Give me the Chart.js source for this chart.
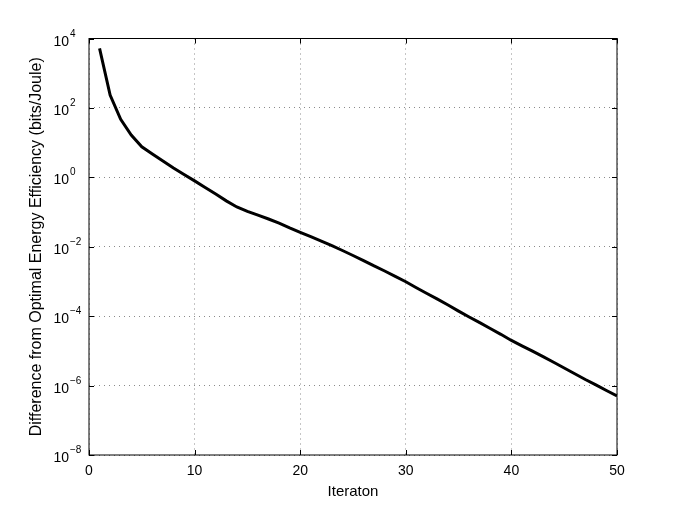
<!DOCTYPE html>
<html>
<head>
<meta charset="utf-8">
<script src="https://cdn.jsdelivr.net/npm/chart.js@4/dist/chart.umd.min.js"></script>
<style>
  html, body { margin: 0; padding: 0; background: #fff; }
  #wrap { width: 681px; height: 513px; }
</style>
</head>
<body>
<div id="wrap"><canvas id="chart" width="681" height="513"></canvas></div>
<script>
// iterations 1..50
const iterations = [1, 2, 3, 4, 5, 6, 7, 8, 9, 10,
  11, 12, 13, 14, 15, 16, 17, 18, 19, 20,
  21, 22, 23, 24, 25, 26, 27, 28, 29, 30,
  31, 32, 33, 34, 35, 36, 37, 38, 39, 40,
  41, 42, 43, 44, 45, 46, 47, 48, 49, 50];

// difference from optimum (bits/Joule)
const gapValues = [5200, 235, 47, 16.5, 7.6, 4.7, 2.95, 1.86, 1.2, 0.79,
  0.51, 0.33, 0.21, 0.14, 0.105, 0.081, 0.063, 0.048, 0.035, 0.026,
  0.0195, 0.0145, 0.0107, 0.0078, 0.0056, 0.004, 0.0028, 0.002, 0.0014, 9.8e-4,
  6.6e-4, 4.5e-4, 3.1e-4, 2.1e-4, 1.4e-4, 9.5e-5, 6.5e-5, 4.4e-5, 3.0e-5, 2.0e-5,
  1.4e-5, 9.8e-6, 6.8e-6, 4.7e-6, 3.2e-6, 2.2e-6, 1.5e-6, 1.05e-6, 7.2e-7, 5.0e-7];

const xTicks = [0, 10, 20, 30, 40, 50];
const yExponents = [-8, -6, -4, -2, 0, 2, 4];

const FONT = "'Liberation Sans', Arial, Helvetica, sans-serif";

// frame, inward tick marks and 10^n labels (matlab style)
const matlabAxes = {
  id: "matlabAxes",
  afterDraw(chart) {
    const { ctx, chartArea: a, scales } = chart;
    ctx.save();
    ctx.strokeStyle = "#000";
    ctx.lineWidth = 1;
    ctx.setLineDash([]);
    ctx.strokeRect(a.left, a.top, a.right - a.left, a.bottom - a.top);

    ctx.beginPath();
    xTicks.forEach(v => {
      const px = Math.round(scales.x.getPixelForValue(v)) + 0.5;
      ctx.moveTo(px, a.bottom); ctx.lineTo(px, a.bottom - 5);
      ctx.moveTo(px, a.top); ctx.lineTo(px, a.top + 5);
    });
    yExponents.forEach(e => {
      const py = Math.round(scales.y.getPixelForValue(Math.pow(10, e))) + 0.5;
      ctx.moveTo(a.left, py); ctx.lineTo(a.left + 5, py);
      ctx.moveTo(a.right, py); ctx.lineTo(a.right - 5, py);
    });
    ctx.stroke();

    ctx.fillStyle = "#000";
    yExponents.forEach(e => {
      const py = scales.y.getPixelForValue(Math.pow(10, e));
      ctx.font = "14px " + FONT;
      ctx.textAlign = "right";
      ctx.textBaseline = "alphabetic";
      ctx.fillText("10", 69, py + 7);
      ctx.font = "10px " + FONT;
      ctx.textAlign = "left";
      ctx.fillText(e < 0 ? "\u2212" + (-e) : String(e), 70, py - 2);
    });
    ctx.restore();
  }
};

new Chart(document.getElementById("chart"), {
  type: "line",
  data: {
    datasets: [{
      label: "gap",
      data: iterations.map((it, i) => ({ x: it, y: gapValues[i] })),
      borderColor: "#000",
      borderWidth: 3,
      pointRadius: 0,
      fill: false,
      tension: 0
    }]
  },
  options: {
    responsive: false,
    animation: false,
    layout: { padding: { left: 23, top: 38.5, right: 64, bottom: 8 } },
    plugins: { legend: { display: false }, tooltip: { enabled: false } },
    scales: {
      x: {
        type: "linear",
        min: 0, max: 50,
        afterBuildTicks: s => { s.ticks = xTicks.map(v => ({ value: v })); },
        afterFit: s => { s.height = 50; },
        grid: { color: "#8a8a8a", drawTicks: false, lineWidth: 1 },
        border: { display: false, dash: [1, 4] },
        ticks: { color: "#000", padding: 8, font: { family: FONT, size: 14 }, maxRotation: 0 },
        title: { display: true, text: "Iteraton", color: "#000", font: { family: FONT, size: 15 } }
      },
      y: {
        type: "logarithmic",
        min: 1e-8, max: 1e4,
        afterBuildTicks: s => { s.ticks = yExponents.map(e => ({ value: Math.pow(10, e) })); },
        afterFit: s => { s.width = 66; },
        grid: { color: "#8a8a8a", drawTicks: false, lineWidth: 1 },
        border: { display: false, dash: [1, 4] },
        ticks: { display: false },
        title: {
          display: true,
          text: "Difference from Optimal Energy Efficiency (bits/Joule)",
          color: "#000",
          font: { family: FONT, size: 16 }
        }
      }
    }
  },
  plugins: [matlabAxes]
});
</script>
</body>
</html>
